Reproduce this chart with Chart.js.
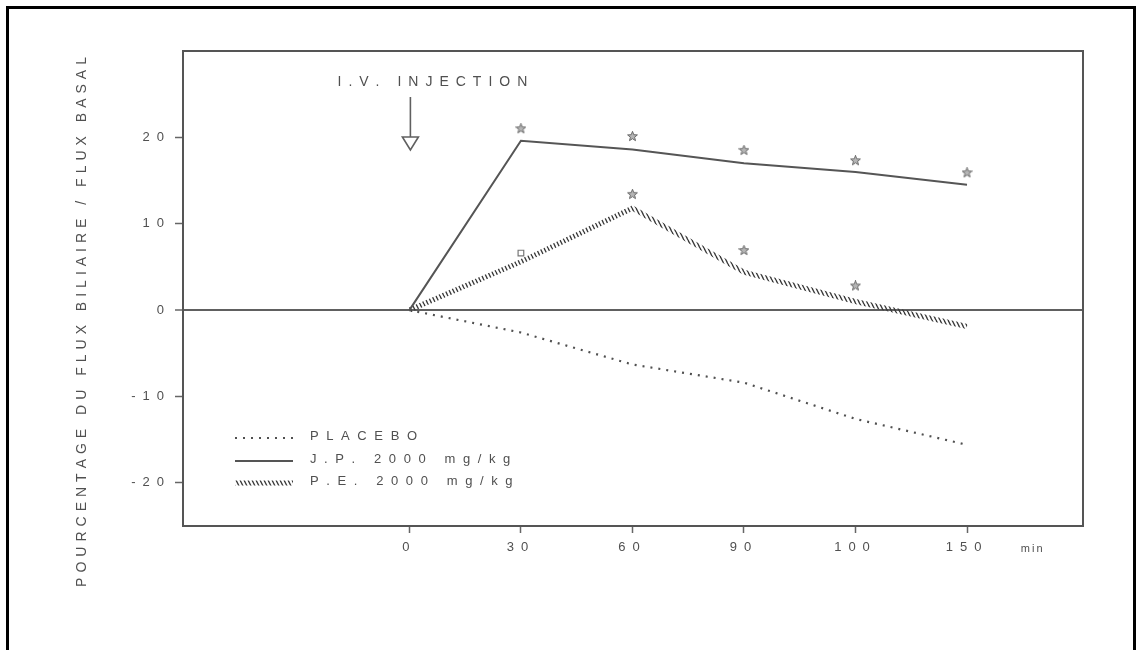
<!DOCTYPE html>
<html>
<head>
<meta charset="utf-8">
<title>Flux biliaire</title>
<script src="https://cdn.jsdelivr.net/npm/chart.js@4/dist/chart.umd.min.js"></script>
<style>
  html, body { margin: 0; padding: 0; background: #fff; }
  canvas { display: block; }
</style>
</head>
<body>
<canvas id="c" width="1142" height="650"></canvas>
<script>
// Time points (minutes) as printed under the axis, and their slot on the axis
const TIME_LABELS = ['0', '30', '60', '90', '100', '150'];
const TIME_SLOTS = [0, 1, 2, 3, 4, 5];

// Percentage of biliary flow relative to basal flow
const PLACEBO = [0, -2.6, -6.3, -8.4, -12.6, -15.6];
const JP_2000 = [0, 19.6, 18.6, 17.0, 16.0, 14.5];
const PE_2000 = [0, 5.6, 11.8, 4.4, 1.0, -1.9];

// Significance markers
const JP_STAR_SLOTS = [1, 2, 3, 4, 5];
const JP_STARS = [21.0, 20.1, 18.5, 17.3, 15.9];
const PE_STAR_SLOTS = [2, 3, 4];
const PE_STARS = [13.4, 6.9, 2.8];
const PE_MARK_SLOTS = [1];
const PE_MARK = [6.6];

const Y_TICKS = [-20, -10, 0, 10, 20];

const SERIES_LABELS = ['PLACEBO', 'J.P. 2000 mg/kg', 'P.E. 2000 mg/kg'];
const Y_TITLE = 'POURCENTAGE DU FLUX BILIAIRE / FLUX BASAL';
const INJECTION_NOTE = 'I.V. INJECTION';
const UNIT_LABEL = 'min';

const INK = '#505050';
const LINE = '#555';

Chart.defaults.font.family = "'Liberation Sans', Arial, sans-serif";

const canvas = document.getElementById('c');
const ctx = canvas.getContext('2d');

// hatched stroke used for the P.E. curve
function makeHatch() {
  const t = document.createElement('canvas');
  t.width = 4; t.height = 8;
  const g = t.getContext('2d');
  g.strokeStyle = '#3a3a3a';
  g.lineWidth = 1.4;
  [-4, 0, 4].forEach(k => {
    g.beginPath(); g.moveTo(k, 0); g.lineTo(k + 4, 8); g.stroke();
  });
  return ctx.createPattern(t, 'repeat');
}
const HATCH = makeHatch();

// small five-point star marker
function makeStar(size) {
  const c = document.createElement('canvas');
  c.width = c.height = size;
  const g = c.getContext('2d');
  const cx = size / 2, cy = size / 2;
  g.beginPath();
  for (let i = 0; i < 10; i++) {
    const r = i % 2 ? size * 0.2 : size * 0.47;
    const a = -Math.PI / 2 + i * Math.PI / 5;
    const px = cx + r * Math.cos(a), py = cy + r * Math.sin(a);
    if (i === 0) g.moveTo(px, py); else g.lineTo(px, py);
  }
  g.closePath();
  g.fillStyle = '#b5b5b5';
  g.fill();
  g.strokeStyle = '#6a6a6a';
  g.lineWidth = 1;
  g.stroke();
  return c;
}
const STAR = makeStar(11);

const pts = (xs, ys) => xs.map((x, i) => ({ x: x, y: ys[i] }));

// draw a string one glyph at a time with extra spacing
function spacedText(g, text, x, y, gap, align) {
  const chars = Array.from(text);
  const widths = chars.map(ch => g.measureText(ch).width);
  const total = widths.reduce((a, b) => a + b, 0) + gap * (chars.length - 1);
  let cx = align === 'center' ? x - total / 2 : (align === 'right' ? x - total : x);
  g.textAlign = 'left';
  chars.forEach((ch, i) => { g.fillText(ch, cx, y); cx += widths[i] + gap; });
}

const decorations = {
  id: 'decorations',
  beforeDraw(chart) {
    chart.ctx.letterSpacing = '7px';
  },
  afterDraw(chart) {
    const g = chart.ctx;
    const a = chart.chartArea;
    const xs = chart.scales.x;
    g.save();
    g.letterSpacing = '0px';

    // outer frame
    g.strokeStyle = '#000';
    g.lineWidth = 3;
    g.strokeRect(7.5, 7.5, 1127, 720);

    // plot box
    g.strokeStyle = LINE;
    g.lineWidth = 2;
    g.strokeRect(a.left, a.top, a.right - a.left, a.bottom - a.top);

    g.fillStyle = INK;
    g.textBaseline = 'middle';

    // vertical axis title
    g.save();
    g.font = "14px 'Liberation Sans', Arial, sans-serif";
    g.translate(82, 322);
    g.rotate(-Math.PI / 2);
    spacedText(g, Y_TITLE, 0, 0, 5, 'center');
    g.restore();

    // injection arrow at t = 0
    const ax = xs.getPixelForValue(0) + 1;
    g.strokeStyle = '#606060';
    g.lineWidth = 1.6;
    g.beginPath(); g.moveTo(ax, a.top + 46); g.lineTo(ax, a.top + 86); g.stroke();
    g.beginPath();
    g.moveTo(ax - 8, a.top + 86); g.lineTo(ax + 8, a.top + 86); g.lineTo(ax, a.top + 99); g.closePath();
    g.stroke();
    g.font = "14px 'Liberation Sans', Arial, sans-serif";
    spacedText(g, INJECTION_NOTE, ax + 22, a.top + 31, 7, 'center');

    // unit label after the last tick
    g.font = "11px 'Liberation Sans', Arial, sans-serif";
    spacedText(g, UNIT_LABEL, xs.getPixelForValue(5.58), 549, 2, 'center');

    // legend
    const ds = chart.data.datasets;
    const rows = [a.top + 385, a.top + 408, a.top + 430];
    const x0 = a.left + 52, x1 = a.left + 110;
    rows.forEach((ry, i) => {
      const d = ds[i];
      g.save();
      g.strokeStyle = d.borderColor;
      g.lineWidth = d.borderWidth;
      g.setLineDash(d.borderDash || []);
      g.lineCap = 'butt';
      g.beginPath(); g.moveTo(x0, ry + 2); g.lineTo(x1, ry + 2); g.stroke();
      g.restore();
      g.fillStyle = INK;
      g.font = "13px 'Liberation Sans', Arial, sans-serif";
      spacedText(g, SERIES_LABELS[i], a.left + 127, ry, 7.6, 'left');
    });

    g.restore();
  }
};

new Chart(ctx, {
  type: 'scatter',
  data: {
    datasets: [
      {
        label: SERIES_LABELS[0],
        data: pts(TIME_SLOTS, PLACEBO),
        showLine: true,
        borderColor: '#505050',
        borderWidth: 2.2,
        borderDash: [2, 6],
        pointRadius: 0,
        tension: 0
      },
      {
        label: SERIES_LABELS[1],
        data: pts(TIME_SLOTS, JP_2000),
        showLine: true,
        borderColor: LINE,
        borderWidth: 2,
        pointRadius: 0,
        tension: 0
      },
      {
        label: SERIES_LABELS[2],
        data: pts(TIME_SLOTS, PE_2000),
        showLine: true,
        borderColor: HATCH,
        borderWidth: 5,
        pointRadius: 0,
        tension: 0
      },
      {
        label: 'jp-stars',
        data: pts(JP_STAR_SLOTS, JP_STARS),
        pointStyle: STAR,
        pointRadius: 5
      },
      {
        label: 'pe-stars',
        data: pts(PE_STAR_SLOTS, PE_STARS),
        pointStyle: STAR,
        pointRadius: 5
      },
      {
        label: 'pe-mark',
        data: pts(PE_MARK_SLOTS, PE_MARK),
        pointStyle: 'rect',
        pointRadius: 4,
        borderColor: '#777',
        borderWidth: 1.2,
        backgroundColor: 'rgba(0,0,0,0)'
      }
    ]
  },
  options: {
    responsive: false,
    animation: false,
    devicePixelRatio: 1,
    layout: { padding: { left: 0, right: 59, top: 51, bottom: 0 } },
    plugins: { legend: { display: false }, tooltip: { enabled: false } },
    scales: {
      x: {
        type: 'linear',
        min: -2.03,
        max: 6.04,
        afterFit: s => { s.height = 124; },
        afterBuildTicks: s => { s.ticks = TIME_SLOTS.map(v => ({ value: v })); },
        border: { display: false },
        grid: { drawOnChartArea: false, tickLength: 7, tickColor: '#666', tickWidth: 1.5 },
        ticks: {
          autoSkip: false, maxRotation: 0, padding: 7, color: INK,
          font: { size: 13 },
          callback: v => TIME_LABELS[TIME_SLOTS.indexOf(v)]
        }
      },
      y: {
        min: -25,
        max: 30,
        afterFit: s => { s.width = 183; },
        afterBuildTicks: s => { s.ticks = Y_TICKS.map(v => ({ value: v })); },
        border: { display: false },
        grid: {
          drawOnChartArea: true,
          color: c => (c.tick && c.tick.value === 0 ? '#606060' : 'rgba(0,0,0,0)'),
          lineWidth: c => (c.tick && c.tick.value === 0 ? 2 : 1),
          tickLength: 8, tickColor: '#666', tickWidth: 1.5
        },
        ticks: {
          padding: 4, color: INK,
          font: { size: 13 },
          callback: v => String(v)
        }
      }
    }
  },
  plugins: [decorations]
});
</script>
</body>
</html>
